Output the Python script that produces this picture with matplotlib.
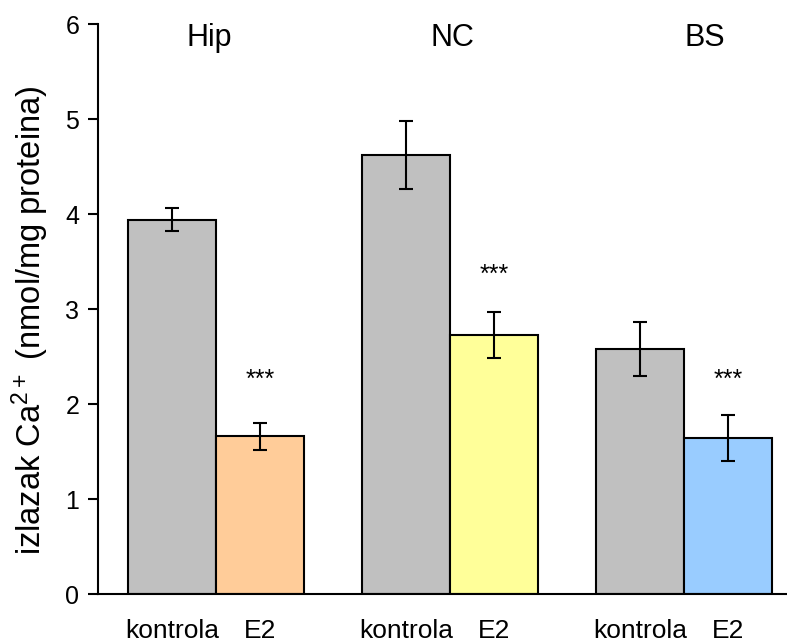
"""
Izlazak Ca2+ iz sinaptosoma: kontrola vs E2 po regijama mozga
"""
import numpy as np
import matplotlib
matplotlib.use('Agg')
import matplotlib.pyplot as plt

plt.rcParams['font.family'] = ['Liberation Sans', 'DejaVu Sans']
plt.rcParams['mathtext.default'] = 'regular'

regions = ['Hip', 'NC', 'BS']
kontrola = [3.94, 4.62, 2.58]
kontrola_err = [0.12, 0.36, 0.28]
e2 = [1.66, 2.73, 1.64]
e2_err = [0.14, 0.24, 0.24]
e2_colors = ['#FFCC99', '#FFFF99', '#99CCFF']
stars = ['***', '***', '***']
star_y = [2.25, 3.36, 2.25]
title_x = [-0.03, 1.01, 2.09]

fig = plt.figure(figsize=(7.87, 6.41), dpi=100)
ax = fig.add_axes([0.1245, 0.0733, 0.8755, 0.889])

x = np.arange(len(regions))
w = 0.376
err_kw = dict(ecolor='black', elinewidth=1.5, capsize=5, capthick=1.5)

ax.bar(x - w / 2, kontrola, w, yerr=kontrola_err, color='#C0C0C0',
       edgecolor='black', linewidth=1.5, error_kw=err_kw, zorder=2)
ax.bar(x + w / 2, e2, w, yerr=e2_err, color=e2_colors,
       edgecolor='black', linewidth=1.5, error_kw=err_kw, zorder=2)

# oznake znacajnosti iznad E2 stupaca
for i in range(len(regions)):
    ax.text(x[i] + w / 2, star_y[i], stars[i], ha='center', va='center',
            fontsize=18)

# nazivi regija iznad grupa
for i, name in enumerate(regions):
    ax.text(title_x[i], 5.85, name, ha='center', va='center', fontsize=22)

ax.set_xticks(np.concatenate([x - w / 2, x + w / 2]))
ax.set_xticklabels(['kontrola'] * 3 + ['E2'] * 3, fontsize=19)
ax.tick_params(axis='x', length=0, pad=18)

ax.set_ylim(0, 6)
ax.set_xlim(-0.504, 2.44)
ax.set_yticks(range(0, 7))
ax.tick_params(axis='y', direction='out', length=7.5, width=1.5,
               labelsize=18, pad=6)
ax.set_ylabel('izlazak Ca$^{2+}$ (nmol/mg proteina)', fontsize=23.5)
ax.yaxis.set_label_coords(-0.068, 0.48)

for side in ['top', 'right']:
    ax.spines[side].set_visible(False)
for side in ['left', 'bottom']:
    ax.spines[side].set_linewidth(1.5)

plt.savefig('out.png', dpi=100)
plt.close()
